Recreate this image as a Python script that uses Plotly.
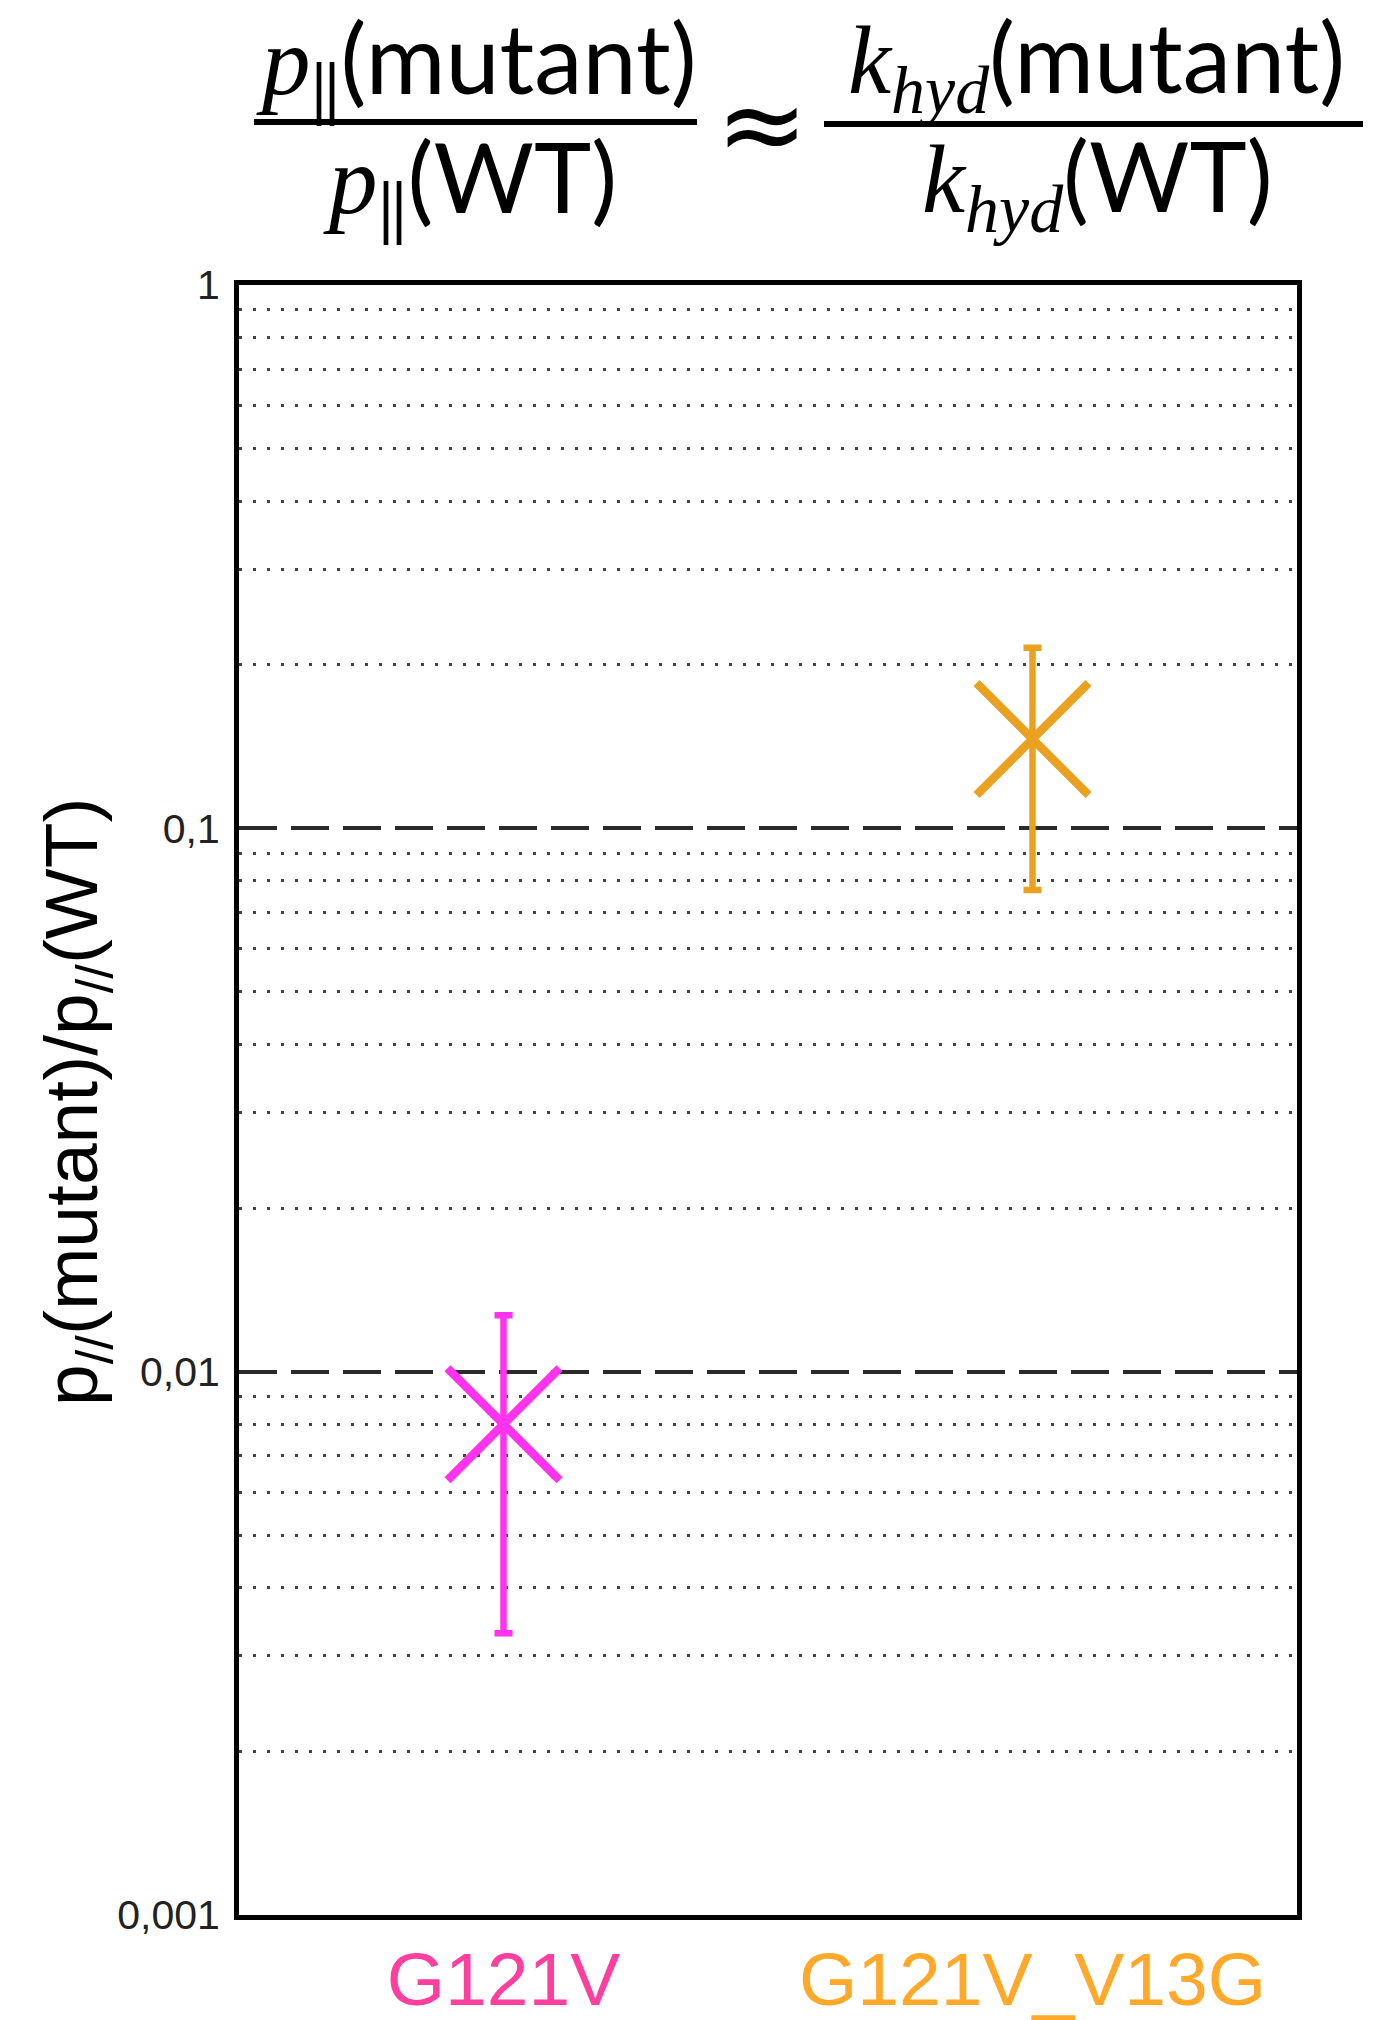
import plotly.graph_objects as go

# ---- data ----
categories = ["G121V", "G121V_V13G"]
ratio = [0.0080, 0.146]
upper = [0.0127, 0.215]
lower = [0.0033, 0.077]
marker_colors = ["#ff33ee", "#e9a11f"]
label_colors = ["#ff3fa0", "#ffa829"]
y_tickvals = [0.001, 0.01, 0.1, 1]
y_ticktext = ["0,001", "0,01", "0,1", "1"]
minor_digits = [2, 3, 4, 5, 6, 7, 8, 9]

W, H = 1377, 2020
L, R, T, B = 239, 80, 285, 105
PW, PH = W - L - R, H - T - B


def px(x):
    return (x - L) / PW


def py(y):
    return (H - B - y) / PH


fig = go.Figure()
for i, cat in enumerate(categories):
    fig.add_trace(go.Scatter(
        x=[cat], y=[ratio[i]], mode="markers",
        marker=dict(symbol="x-thin-open", size=112, color=marker_colors[i],
                    line=dict(width=8.5, color=marker_colors[i])),
        error_y=dict(type="data", symmetric=False,
                     array=[upper[i] - ratio[i]],
                     arrayminus=[ratio[i] - lower[i]],
                     color=marker_colors[i], thickness=6.5, width=9),
        showlegend=False,
    ))

minor_vals = [d * 10 ** e for e in (-3, -2, -1) for d in minor_digits]

fig.update_yaxes(
    type="log", range=[-3, 0], automargin=False,
    tickvals=y_tickvals, ticktext=y_ticktext,
    tickfont=dict(family="Liberation Sans, Arial", size=41, color="#222222"),
    ticks="", ticklabelstandoff=6,
    showline=True, linewidth=5, linecolor="black", mirror=True,
    showgrid=True, gridcolor="#2a2a2a", gridwidth=4, griddash="38px,14px",
    minor=dict(tickvals=minor_vals, showgrid=True, gridcolor="#444444",
               gridwidth=3, griddash="3px,11px", ticks=""),
    zeroline=False,
)
fig.update_xaxes(
    type="category", range=[-0.5, 1.5], automargin=False,
    categoryorder="array", categoryarray=categories,
    tickvals=categories,
    ticktext=[f"<span style='color:{c}'>{t}</span>" for t, c in zip(categories, label_colors)],
    tickfont=dict(family="Liberation Sans, Arial", size=75),
    ticks="", showgrid=False, zeroline=False,
    showline=True, linewidth=5, linecolor="black", mirror=True,
    ticklabelstandoff=-5,
)

serif = "font-family:Liberation Serif"
ann_font = dict(family="Lato, Liberation Sans", size=97, color="black")
p_sym = f"<span style='{serif}'><i>p</i></span><sub>‖</sub>"
k_sym = f"<span style='{serif}'><i>k</i><sub><i>hyd</i></sub></span>"

annotations = [
    dict(x=px(476), y=py(63), text=p_sym + "(mutant)"),
    dict(x=px(470), y=py(182), text=p_sym + "(WT)"),
    dict(x=px(1096), y=py(63), text=k_sym + "(mutant)"),
    dict(x=px(1097), y=py(182), text=k_sym + "(WT)"),
    dict(x=px(762), y=py(124), text="≈", font=dict(family="DejaVu Sans", size=110, color="black")),
]
for a in annotations:
    a.update(xref="paper", yref="paper", showarrow=False,
             xanchor="center", yanchor="middle")
    a.setdefault("font", ann_font)

annotations.append(dict(
    x=px(76), y=py(1102), xref="paper", yref="paper", showarrow=False,
    xanchor="center", yanchor="middle", textangle=-90,
    text="p<sub>//</sub>(mutant)/p<sub>//</sub>(WT)",
    font=dict(family="Liberation Sans, Arial", size=75, color="black"),
))

shapes = [
    dict(type="line", xref="paper", yref="paper",
         x0=px(254), x1=px(697), y0=py(122), y1=py(122),
         line=dict(color="black", width=6)),
    dict(type="line", xref="paper", yref="paper",
         x0=px(824), x1=px(1363), y0=py(124), y1=py(124),
         line=dict(color="black", width=6)),
]

fig.update_layout(
    width=W, height=H,
    margin=dict(l=L, r=R, t=T, b=B),
    paper_bgcolor="white", plot_bgcolor="white",
    annotations=annotations, shapes=shapes,
)

fig.write_html("out.html")
